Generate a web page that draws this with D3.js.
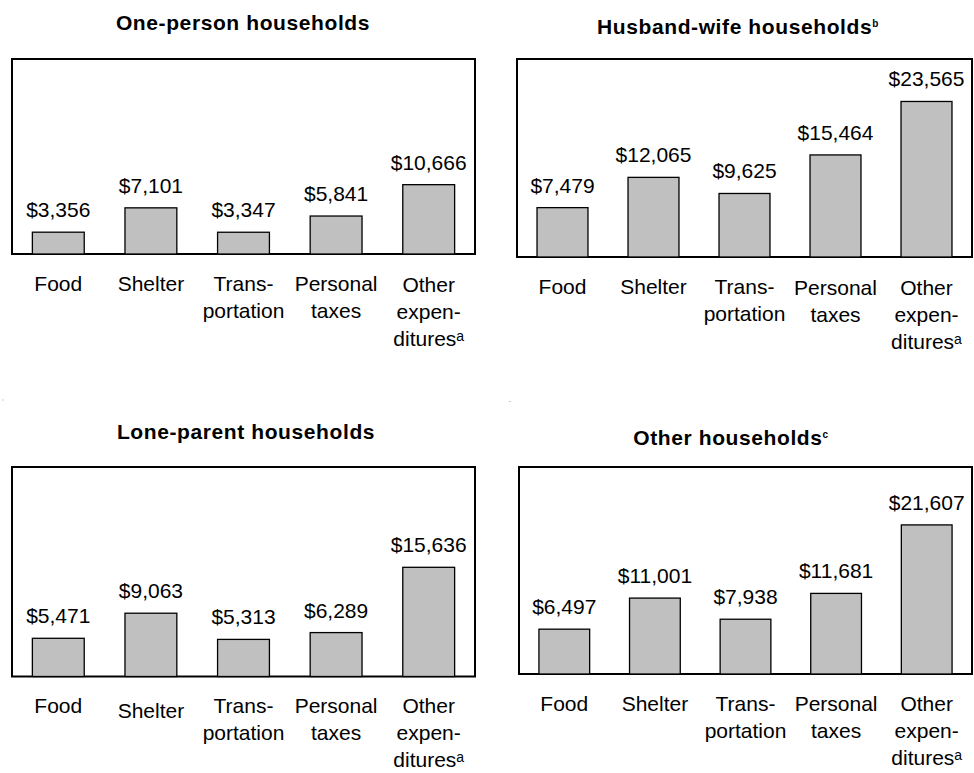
<!DOCTYPE html>
<html>
<head>
<meta charset="utf-8">
<script src="https://cdn.jsdelivr.net/npm/d3@7"></script>
<style>
  body { margin: 0; background: #fff; }
  svg { display: block; }
  text { font-family: "Liberation Sans", Arial, sans-serif; fill: #000; }
</style>
</head>
<body>
<svg id="chart" width="974" height="773"></svg>
<script>
// categories, one array entry per bar; label lines as printed
const categories = ["Food", "Shelter", "Transportation", "Personal taxes", "Other expenditures"];
const categoryLines = [["Food"], ["Shelter"], ["Trans-", "portation"], ["Personal", "taxes"], ["Other", "expen-", "ditures"]];
const categoryNotes = ["", "", "", "", "a"];

const householdTypes = ["One-person households", "Husband-wife households", "Lone-parent households", "Other households"];
const titleNotes = ["", "b", "", "c"];

// average annual spending, dollars
const onePerson = [3356, 7101, 3347, 5841, 10666];
const husbandWife = [7479, 12065, 9625, 15464, 23565];
const loneParent = [5471, 9063, 5313, 6289, 15636];
const otherHouseholds = [6497, 11001, 7938, 11681, 21607];
const seriesValues = [onePerson, husbandWife, loneParent, otherHouseholds];
const yMax = 30000;

// panel frames (layout only)
const panels = [
    { x0: 12, x1: 475, y0: 59, y1: 254, tx: 243, ty: 30, nudge: [0, 0, 0, 0, 1.5] },
    { x0: 517, x1: 972, y0: 59, y1: 257, tx: 738, ty: 33.5, nudge: [0, 0, 0, 1.7, 1.7] },
    { x0: 12, x1: 475, y0: 467, y1: 676.5, tx: 246, ty: 439, nudge: [0, 5, 0, 0, 0] },
    { x0: 519, x1: 972, y0: 467, y1: 674, tx: 731, ty: 445, nudge: [0, 0, 0, 0, 0] }
];

let svg = d3.select("#chart");
let fmt = d3.format("$,");

panels.forEach((p, i) => drawPanel(p, i));

function drawPanel(p, i) {
    let values = seriesValues[i];
    let g = svg.append("g");

    let x = d3.scaleBand()
        .domain(categories)
        .range([p.x0, p.x1])
        .paddingInner(0.44)
        .paddingOuter(0.22);
    let y = d3.scaleLinear()
        .domain([0, yMax])
        .range([p.y1, p.y0]);

    // title
    let title = g.append("text")
        .attr("x", p.tx)
        .attr("y", p.ty)
        .attr("text-anchor", "middle")
        .style("font-size", "21px")
        .style("font-weight", "bold")
        .style("letter-spacing", "0.6px")
        .text(householdTypes[i]);
    if (titleNotes[i]) {
        title.append("tspan")
            .attr("dy", -7)
            .style("font-size", "10px")
            .text(titleNotes[i]);
    }

    g.append("rect")
        .attr("x", p.x0)
        .attr("y", p.y0)
        .attr("width", p.x1 - p.x0)
        .attr("height", p.y1 - p.y0)
        .attr("fill", "#fff")
        .attr("stroke", "#000")
        .attr("stroke-width", 2);

    g.selectAll("rect.bar")
        .data(values)
        .enter().append("rect")
        .attr("class", "bar")
        .attr("x", (d, k) => x(categories[k]))
        .attr("y", d => y(d))
        .attr("width", x.bandwidth())
        .attr("height", d => y(0) - y(d))
        .attr("fill", "#c0c0c0")
        .attr("stroke", "#000")
        .attr("stroke-width", 1.3);

    g.selectAll("text.value")
        .data(values)
        .enter().append("text")
        .attr("class", "value")
        .attr("x", (d, k) => x(categories[k]) + x.bandwidth() / 2)
        .attr("y", d => y(d) - 15)
        .attr("text-anchor", "middle")
        .style("font-size", "21px")
        .text(d => fmt(d));

    let labels = g.selectAll("text.cat")
        .data(categories)
        .enter().append("text")
        .attr("class", "cat")
        .attr("text-anchor", "middle")
        .style("font-size", "21px");

    labels.each(function (c, k) {
        let cx = x(c) + x.bandwidth() / 2;
        let base = p.y1 + 36.5 + p.nudge[k];
        let lines = categoryLines[k];
        lines.forEach((line, j) => {
            d3.select(this).append("tspan")
                .attr("x", cx)
                .attr("y", base + j * 27)
                .text(line);
            if (j === lines.length - 1 && categoryNotes[k]) {
                d3.select(this).append("tspan")
                    .attr("dy", -5)
                    .style("font-size", "14px")
                    .text(categoryNotes[k]);
            }
        });
    });
}

// stray print specks in the source scan
svg.append("rect").attr("x", 2.5).attr("y", 399.5).attr("width", 1).attr("height", 1).attr("fill", "#999");
svg.append("rect").attr("x", 509.5).attr("y", 401).attr("width", 1).attr("height", 1).attr("fill", "#999");
</script>
</body>
</html>
